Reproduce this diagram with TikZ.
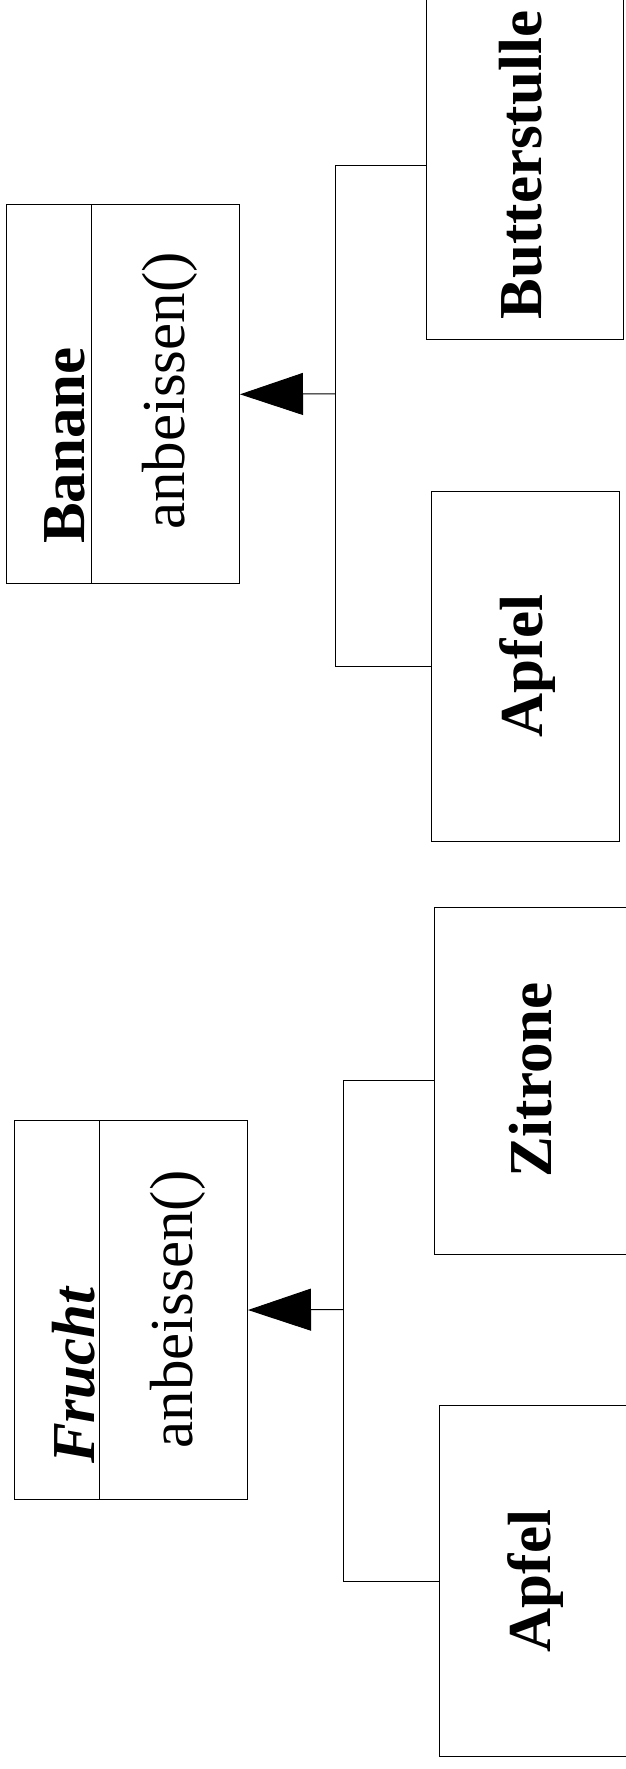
\documentclass[tikz,border=0pt]{standalone}
\usepackage{fontspec}
\setmainfont{Liberation Serif}
\usetikzlibrary{arrows.meta}
\begin{document}
\begin{tikzpicture}[x=1pt,y=-1pt,
  box/.style={draw, line width=1pt, rectangle, inner sep=0pt, anchor=north west},
  lbl/.style={inner sep=0pt, rotate=90, font=\fontsize{61}{61}\selectfont},
  link/.style={draw, line width=1pt},
  inherit/.style={link, -{Triangle[length=63pt,width=42pt]}}]
\useasboundingbox (0,0) rectangle (626,1769);
\clip (0,0) rectangle (626,1769);
% class boxes
\node[box, minimum width=233.4pt, minimum height=379pt] (banane) at (5.6,204.3) {};
\draw[line width=1pt] (banane.north west) ++(86.1,0) -- ++(0,379);
\node[box, minimum width=233pt, minimum height=379pt] (frucht) at (14,1120) {};
\draw[line width=1pt] (frucht.north west) ++(85.7,0) -- ++(0,379);
% subclass boxes
\node[box, minimum width=196.4pt, minimum height=347.1pt] (butter) at (426.3,-8.4) {};
\node[box, minimum width=188.3pt, minimum height=350.3pt] (apfelA) at (430.7,490.7) {};
\node[box, minimum width=194pt, minimum height=346.2pt] (zitrone) at (434.3,907.3) {};
\node[box, minimum width=190pt, minimum height=351.2pt] (apfelB) at (439,1405.2) {};
% texts
\node[lbl, anchor=base west] (tBanane) at (84,544) {\textbf{Banane}};
\node[lbl, anchor=base] (tBaneOp) at (184,391) {anbeissen()};
\node[lbl, anchor=base west] (tFrucht) at (94.5,1464) {\textbf{\textit{Frucht}}};
\node[lbl, anchor=base] (tFruchtOp) at (192.7,1309.5) {anbeissen()};
\node[lbl, anchor=base] (tButter) at (541.7,165) {\textbf{Butterstulle}};
\node[lbl, anchor=base] (tApfelA) at (542.5,666) {\textbf{Apfel}};
\node[lbl, anchor=base] (tZitrone) at (551.5,1080) {\textbf{Zitrone}};
\node[lbl, anchor=base] (tApfelB) at (550.7,1581) {\textbf{Apfel}};
% connectors
\coordinate (j1) at (335.5,393.8);
\coordinate (j2) at (343.6,1309.5);
\draw[link] (butter.west) -| (j1);
\draw[link] (apfelA.west) -| (j1);
\draw[inherit] (j1) -- (banane.east);
\draw[link] (zitrone.west) -| (j2);
\draw[link] (apfelB.west) -| (j2);
\draw[inherit] (j2) -- (frucht.east);
\end{tikzpicture}
\end{document}
